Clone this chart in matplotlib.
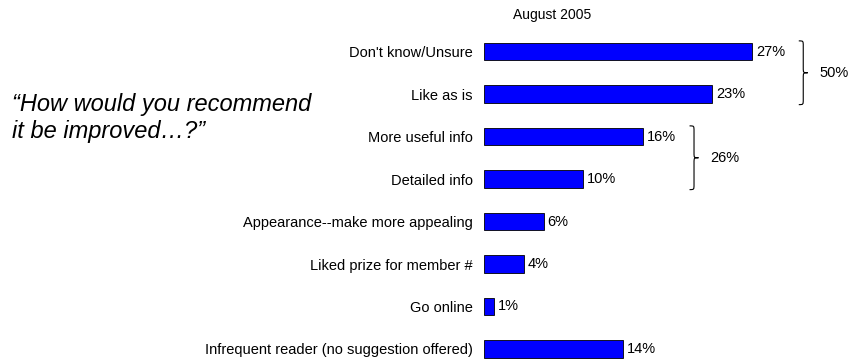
import matplotlib.pyplot as plt
from matplotlib.path import Path
from matplotlib.patches import PathPatch

plt.rcParams['font.family'] = ['Liberation Sans', 'DejaVu Sans']

categories = ["Don't know/Unsure", "Like as is", "More useful info", "Detailed info",
              "Appearance--make more appealing", "Liked prize for member #",
              "Go online", "Infrequent reader (no suggestion offered)"]
values = [27, 23, 16, 10, 6, 4, 1, 14]

# grouped totals: (first row, last row, total)
groups = [(0, 1, 50), (2, 3, 26)]


def draw_brace(ax, x0, w, ytop, ybot, r):
    xm = x0 + w / 2
    x1 = x0 + w
    ymid = (ytop + ybot) / 2
    verts = [(x0, ytop), (xm, ytop), (xm, ytop), (xm, ytop + r),
             (xm, ymid - r),
             (xm, ymid), (xm, ymid), (x1, ymid),
             (xm, ymid), (xm, ymid), (xm, ymid + r),
             (xm, ybot - r),
             (xm, ybot), (xm, ybot), (x0, ybot)]
    codes = [Path.MOVETO, Path.CURVE4, Path.CURVE4, Path.CURVE4,
             Path.LINETO,
             Path.CURVE4, Path.CURVE4, Path.CURVE4,
             Path.CURVE4, Path.CURVE4, Path.CURVE4,
             Path.LINETO,
             Path.CURVE4, Path.CURVE4, Path.CURVE4]
    ax.add_patch(PathPatch(Path(verts, codes), fill=False, lw=0.8, color='black', clip_on=False))


fig = plt.figure(figsize=(8.51, 3.64), dpi=100)
ax = fig.add_axes([484 / 851, 0, 367 / 851, 1])

rows = list(range(len(values)))
ax.barh(rows, values, height=0.42, color='#0000FF', edgecolor='black', linewidth=0.6)
for r, v in zip(rows, values):
    ax.text(v + 0.4, r, f'{v}%', va='center', ha='left', fontsize=10.5)

ax.set_xlim(0, 367 / 9.93)
ax.set_ylim(7.353, -1.212)
ax.set_yticks(rows)
ax.set_yticklabels(categories, fontsize=10.5)
ax.tick_params(axis='y', length=0, pad=8)
ax.set_xticks([])
for s in ax.spines.values():
    s.set_visible(False)

for g0, g1, total in groups:
    xb = max(values[g0:g1 + 1]) + 4.7
    draw_brace(ax, xb, 0.9, g0 - 0.25, g1 + 0.25, 0.12)
    ax.text(xb + 2.1, (g0 + g1) / 2, f'{total}%', va='center', ha='left', fontsize=10.5)

ax.text(6.9, -0.85, 'August 2005', ha='center', va='center', fontsize=10)

fig.text(12 / 851, 1 - 118 / 364, '\u201cHow would you recommend\nit be improved\u2026?\u201d',
         fontsize=17, style='italic', ha='left', va='center', linespacing=1.25)

fig.savefig('out.png', dpi=100)
